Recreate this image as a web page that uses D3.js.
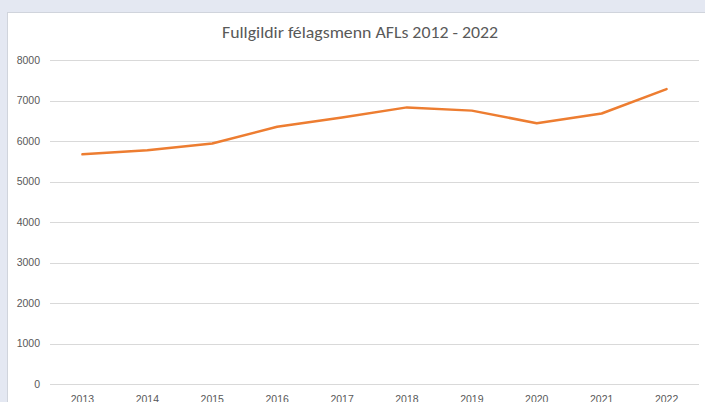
<!DOCTYPE html>
<html>
<head>
<meta charset="utf-8">
<script src="https://cdn.jsdelivr.net/npm/d3@7"></script>
<style>
  body { margin: 0; background: #e4e8f2; overflow: hidden; }
  #chart { position: absolute; left: 0; top: 0; }
</style>
</head>
<body>
<div id="chart"></div>
<script>
var width = 705;
var height = 402;

// Chart data
var years = ["2013", "2014", "2015", "2016", "2017", "2018", "2019", "2020", "2021", "2022"];
var members = [5670, 5770, 5940, 6350, 6580, 6830, 6750, 6440, 6680, 7280];
var yTicks = [0, 1000, 2000, 3000, 4000, 5000, 6000, 7000, 8000];
var title = "Fullgildir félagsmenn AFLs 2012 - 2022";

var svg = d3.select("#chart").append("svg")
    .attr("width", width)
    .attr("height", height);

// White chart panel, cut off at the right and bottom
svg.append("rect")
    .attr("x", 7.5)
    .attr("y", 12.5)
    .attr("width", width)
    .attr("height", height)
    .attr("fill", "#ffffff")
    .attr("stroke", "#d0d4dc")
    .attr("stroke-width", 1);

// Plot area
var plotLeft = 50, plotRight = 699, plotTop = 60, plotBottom = 384;

var x = d3.scaleBand().domain(years).range([plotLeft, plotRight]);
var y = d3.scaleLinear().domain([0, 8000]).range([plotBottom, plotTop]);

// Title
svg.append("text")
    .attr("x", 360)
    .attr("y", 38)
    .attr("text-anchor", "middle")
    .attr("font-family", "Carlito, Calibri, 'Open Sans', sans-serif")
    .attr("font-size", 16)
    .attr("fill", "#595959")
    .attr("textLength", 276)
    .attr("lengthAdjust", "spacingAndGlyphs")
    .text(title);

// Horizontal gridlines
svg.append("g")
  .selectAll("line")
  .data(yTicks)
  .enter().append("line")
    .attr("x1", plotLeft)
    .attr("x2", plotRight)
    .attr("y1", d => Math.round(y(d)) + 0.5)
    .attr("y2", d => Math.round(y(d)) + 0.5)
    .attr("stroke", "#d9d9d9")
    .attr("stroke-width", 1);

// Y axis labels
var yAxis = d3.axisLeft(y).tickValues(yTicks).tickFormat(d3.format("d")).tickSize(0).tickPadding(0);
svg.append("g")
    .attr("transform", "translate(40,0)")
    .call(yAxis)
    .call(g => g.select(".domain").remove())
    .call(g => g.selectAll("text")
      .attr("font-family", "'Liberation Sans', Arial, sans-serif")
      .attr("font-size", 10.5)
      .attr("fill", "#595959"));

// X axis labels (cut off by the bottom edge, as in the reference)
var xAxis = d3.axisBottom(x).tickSize(0).tickPadding(0);
svg.append("g")
    .attr("transform", "translate(0,396)")
    .call(xAxis)
    .call(g => g.select(".domain").remove())
    .call(g => g.selectAll("text")
      .attr("font-family", "'Liberation Sans', Arial, sans-serif")
      .attr("font-size", 10.5)
      .attr("fill", "#595959"));

// Data line
var line = d3.line()
    .x((d, i) => x(years[i]) + x.bandwidth() / 2)
    .y(d => y(d));

svg.append("path")
    .datum(members)
    .attr("d", line)
    .attr("fill", "none")
    .attr("stroke", "#ed7d31")
    .attr("stroke-width", 2.5)
    .attr("stroke-linejoin", "round")
    .attr("stroke-linecap", "round");
</script>
</body>
</html>
